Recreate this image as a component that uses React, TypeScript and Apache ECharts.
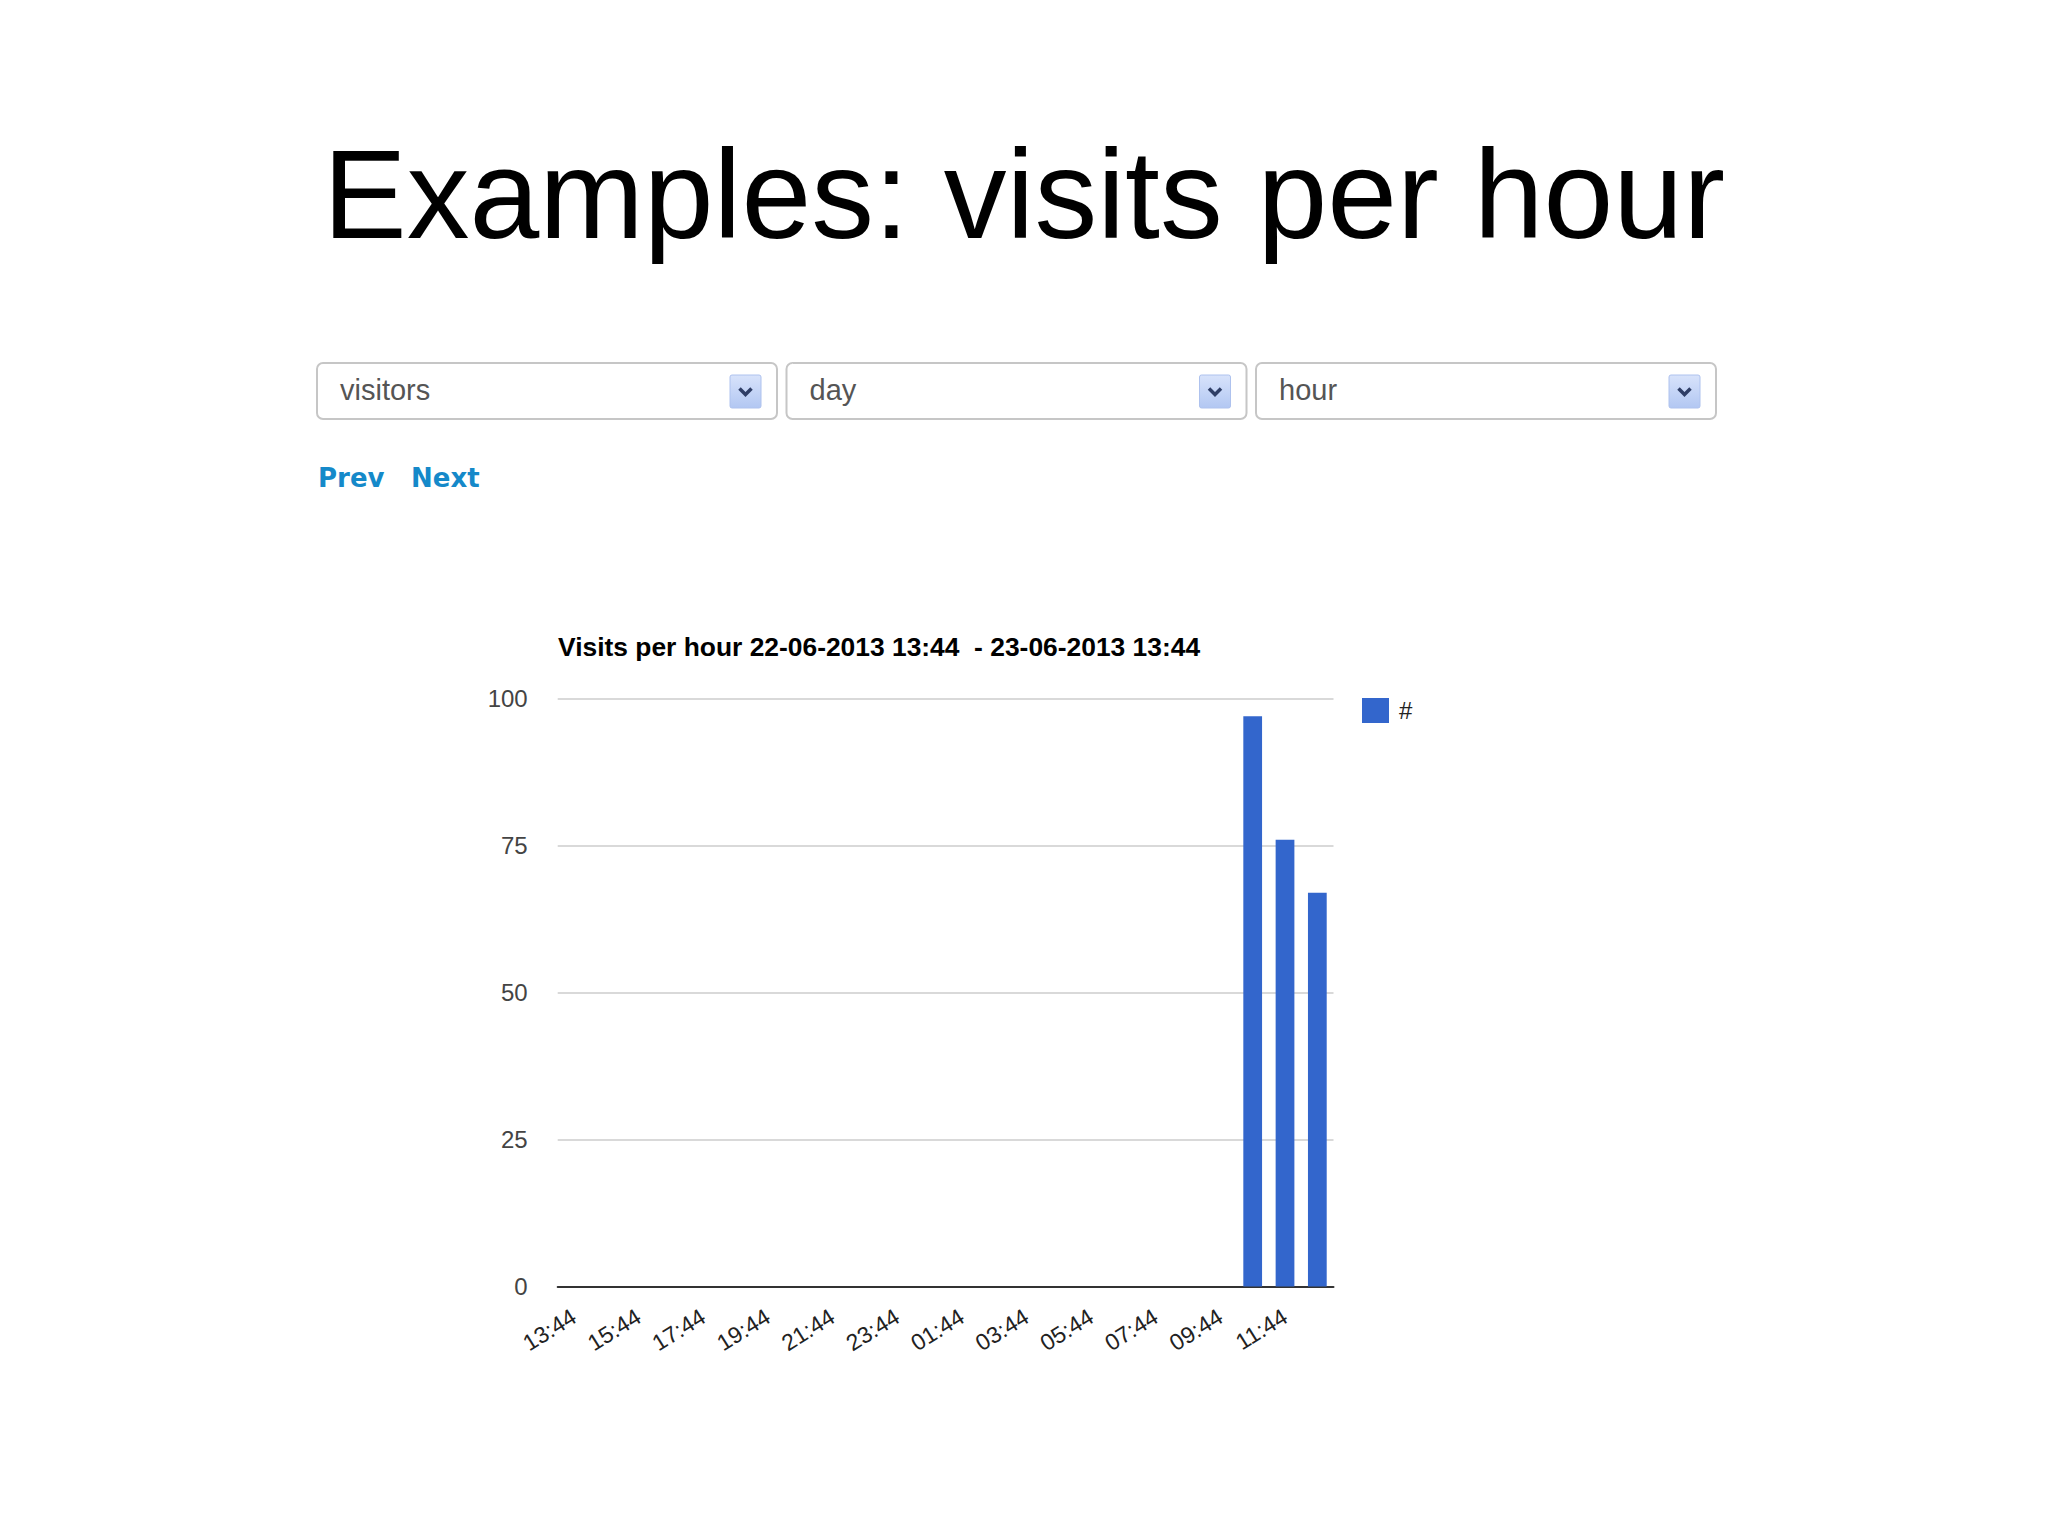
import React, { useEffect, useRef } from 'react';
import * as echarts from 'echarts';

const pageTitle = 'Examples: visits per hour';
const selectors = ['visitors', 'day', 'hour'];
const navLinks = ['Prev', 'Next'];
const chartTitle = 'Visits per hour 22-06-2013 13:44  - 23-06-2013 13:44';
const seriesName = '#';

const hours = [
  '13:44', '14:44', '15:44', '16:44', '17:44', '18:44', '19:44', '20:44',
  '21:44', '22:44', '23:44', '00:44', '01:44', '02:44', '03:44', '04:44',
  '05:44', '06:44', '07:44', '08:44', '09:44', '10:44', '11:44', '12:44',
];
const visits = [
  0, 0, 0, 0, 0, 0, 0, 0,
  0, 0, 0, 0, 0, 0, 0, 0,
  0, 0, 0, 0, 0, 97, 76, 67,
];
const yMin = 0;
const yMax = 100;
const yStep = 25;

const SANS = '"Liberation Sans", Arial, sans-serif';

export default function App() {
  const ref = useRef<HTMLDivElement>(null);

  useEffect(() => {
    const chart = echarts.init(ref.current!, null, { renderer: 'svg' });

    const boxX = [317, 786.5, 1256];
    const boxW = 460;
    const boxY = 363;
    const boxH = 56;

    const dropdowns: any[] = selectors.map((label, i) => ({
      type: 'group',
      x: boxX[i],
      y: boxY,
      children: [
        {
          type: 'rect',
          shape: { x: 0, y: 0, width: boxW, height: boxH, r: 6 },
          style: { fill: '#ffffff', stroke: '#c6c6c6', lineWidth: 2 },
        },
        {
          type: 'text',
          x: 23,
          y: 27,
          style: {
            text: label,
            fontSize: 29,
            fontFamily: SANS,
            fill: '#555555',
            verticalAlign: 'middle',
          },
        },
        {
          type: 'rect',
          shape: { x: 413, y: 12, width: 31, height: 33, r: 2 },
          style: {
            fill: new echarts.graphic.LinearGradient(0, 0, 0, 1, [
              { offset: 0, color: '#d8e3fb' },
              { offset: 1, color: '#b2c7f2' },
            ]),
            stroke: '#aec2ee',
            lineWidth: 1,
          },
        },
        {
          type: 'polyline',
          shape: { points: [[422.5, 25.5], [428.5, 31.5], [434.5, 25.5]] },
          style: { stroke: '#2f3e66', lineWidth: 3.5, fill: null },
        },
      ],
    }));

    const navX = [318, 411];
    const navTexts: any[] = navLinks.map((t, i) => ({
      type: 'text',
      x: navX[i],
      y: 478,
      style: {
        text: t,
        fontSize: 26,
        fontWeight: 'bold',
        fontFamily: '"DejaVu Sans", Verdana, sans-serif',
        fill: '#1589c9',
        verticalAlign: 'middle',
      },
    }));

    const option: any = {
      animation: false,
      backgroundColor: '#ffffff',
      grid: {
        left: 557.7,
        right: 2048 - 1333.5,
        top: 698.7,
        bottom: 1536 - 1286.4,
        containLabel: false,
      },
      legend: {
        data: [seriesName],
        left: 1362,
        top: 698,
        padding: 0,
        itemWidth: 27,
        itemHeight: 25,
        icon: 'rect',
        selectedMode: false,
        textStyle: { fontSize: 24, color: '#222222', fontFamily: SANS, padding: [0, 0, 0, 5] },
      },
      xAxis: {
        type: 'category',
        data: hours,
        axisLine: { show: true, lineStyle: { color: '#333333', width: 2 } },
        axisTick: { show: false },
        axisLabel: {
          interval: 1,
          rotate: 32,
          margin: 28,
          fontSize: 23,
          fontFamily: SANS,
          color: '#222222',
        },
        splitLine: { show: false },
      },
      yAxis: {
        type: 'value',
        min: yMin,
        max: yMax,
        interval: yStep,
        axisLine: { show: false },
        axisTick: { show: false },
        axisLabel: {
          margin: 30,
          fontSize: 24,
          fontFamily: SANS,
          color: '#444444',
        },
        splitLine: { lineStyle: { color: '#cccccc', width: 1.5 } },
      },
      series: [
        {
          name: seriesName,
          type: 'bar',
          data: visits,
          barCategoryGap: '42%',
          itemStyle: { color: '#3366cc' },
        },
      ],
      graphic: [
        {
          type: 'text',
          x: 323,
          y: 194.5,
          style: {
            text: pageTitle,
            fontSize: 125.5,
            fontFamily: SANS,
            fill: '#000000',
            verticalAlign: 'middle',
          },
        },
        ...dropdowns,
        ...navTexts,
        {
          type: 'text',
          x: 558,
          y: 646.5,
          style: {
            text: chartTitle,
            fontSize: 26.4,
            fontWeight: 'bold',
            fontFamily: SANS,
            fill: '#000000',
            verticalAlign: 'middle',
          },
        },
      ],
    };

    chart.setOption(option);
    return () => chart.dispose();
  }, []);

  return (
    <div
      ref={ref}
      style={{ position: 'absolute', left: 0, top: 0, width: 2048, height: 1536, background: '#ffffff' }}
    />
  );
}
